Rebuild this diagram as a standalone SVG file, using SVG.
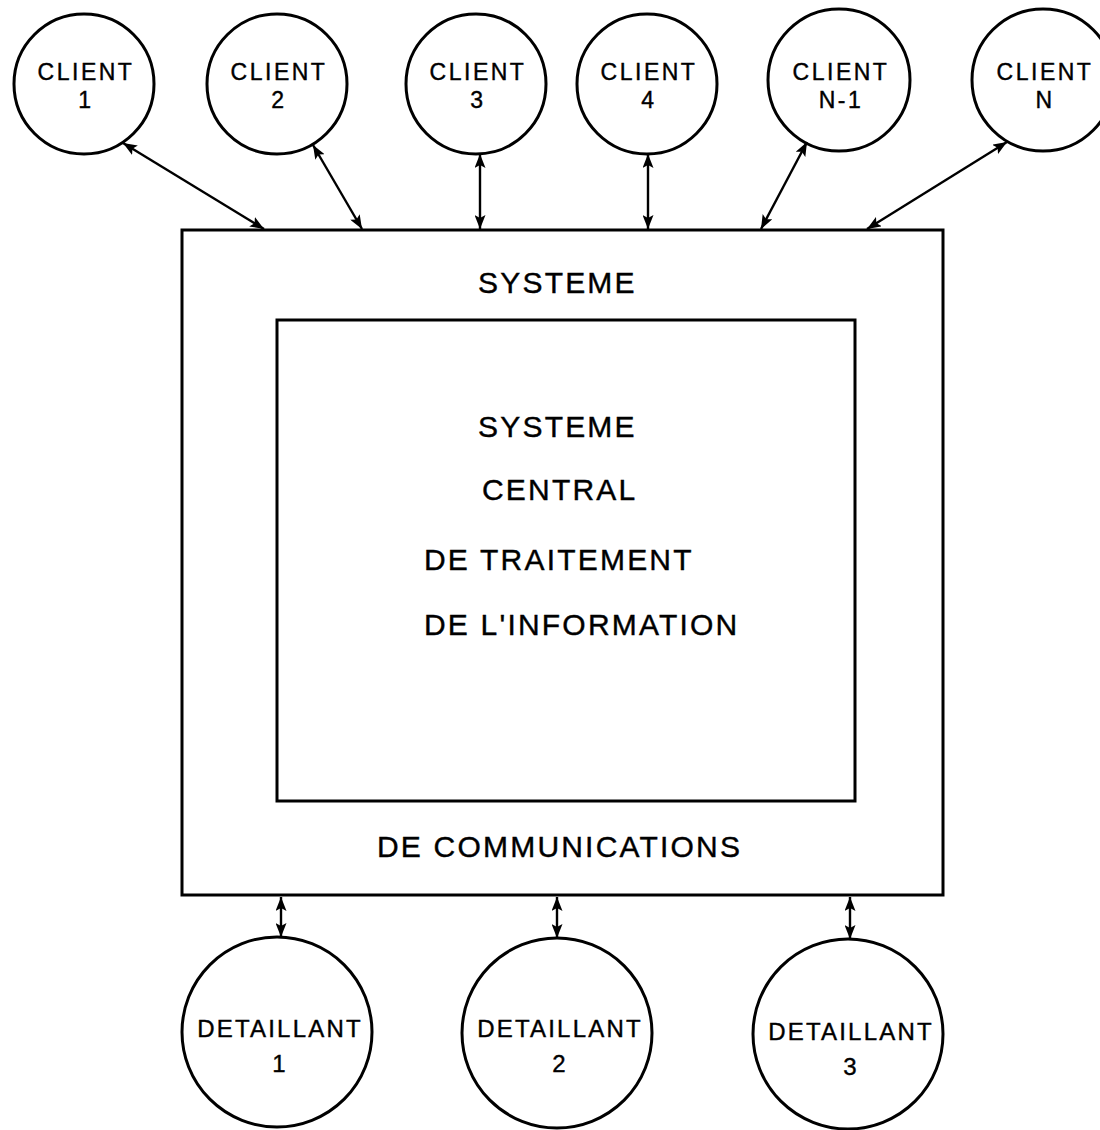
<svg xmlns="http://www.w3.org/2000/svg" width="1100" height="1130" viewBox="0 0 1100 1130">
<style>
.shape{fill:none;stroke:#000;stroke-width:3}
.conn{stroke:#000;stroke-width:2.4;fill:none}
.lbl{font-family:"Liberation Sans",Arial,sans-serif;fill:#000;stroke:#000;stroke-width:0.4}
.big{font-size:30px;letter-spacing:2.2px}
.cl{font-size:23px;letter-spacing:2.5px;text-anchor:middle}
.dt{font-size:24px;letter-spacing:2.2px;text-anchor:middle}
</style>
<defs>
<marker id="ah" viewBox="0 0 14 11" refX="14" refY="5.5" markerWidth="14" markerHeight="11" markerUnits="userSpaceOnUse" orient="auto-start-reverse">
<path d="M0,0 L14,5.5 L0,11 L3,5.5 z" fill="#000"/>
</marker>
</defs>
<rect width="1100" height="1130" fill="#fff"/>
<g id="systeme-communications">
<rect class="shape" x="182" y="230" width="761" height="665"/>
<text class="lbl big" x="478" y="293">SYSTEME</text>
<text class="lbl big" x="377" y="857">DE COMMUNICATIONS</text>
</g>
<g id="systeme-central">
<rect class="shape" x="277" y="320" width="578" height="481"/>
<text class="lbl big" x="478" y="437">SYSTEME</text>
<text class="lbl big" x="482" y="500">CENTRAL</text>
<text class="lbl big" x="424" y="570">DE TRAITEMENT</text>
<text class="lbl big" x="424" y="635">DE L'INFORMATION</text>
</g>
<g id="client-1"><circle class="shape" cx="84" cy="84" r="70"/><text class="lbl cl" x="86" y="80">CLIENT</text><text class="lbl cl" x="86" y="108">1</text></g>
<g id="client-2"><circle class="shape" cx="277" cy="84" r="70"/><text class="lbl cl" x="279" y="80">CLIENT</text><text class="lbl cl" x="279" y="108">2</text></g>
<g id="client-3"><circle class="shape" cx="476" cy="84" r="70"/><text class="lbl cl" x="478" y="80">CLIENT</text><text class="lbl cl" x="478" y="108">3</text></g>
<g id="client-4"><circle class="shape" cx="647" cy="84" r="70"/><text class="lbl cl" x="649" y="80">CLIENT</text><text class="lbl cl" x="649" y="108">4</text></g>
<g id="client-n-1"><circle class="shape" cx="839" cy="80" r="71"/><text class="lbl cl" x="841" y="80">CLIENT</text><text class="lbl cl" x="841" y="108">N-1</text></g>
<g id="client-n"><circle class="shape" cx="1043" cy="80" r="71"/><text class="lbl cl" x="1045" y="80">CLIENT</text><text class="lbl cl" x="1045" y="108">N</text></g>
<g id="detaillant-1"><circle class="shape" cx="277" cy="1032" r="95"/><text class="lbl dt" x="280" y="1037">DETAILLANT</text><text class="lbl dt" x="280" y="1072">1</text></g>
<g id="detaillant-2"><circle class="shape" cx="557" cy="1033" r="95"/><text class="lbl dt" x="560" y="1037">DETAILLANT</text><text class="lbl dt" x="560" y="1072">2</text></g>
<g id="detaillant-3"><circle class="shape" cx="848" cy="1034" r="95"/><text class="lbl dt" x="851" y="1040">DETAILLANT</text><text class="lbl dt" x="851" y="1075">3</text></g>
<g id="connectors">
<line class="conn" x1="123" y1="143" x2="264" y2="229" marker-start="url(#ah)" marker-end="url(#ah)"/>
<line class="conn" x1="313" y1="145" x2="362" y2="229" marker-start="url(#ah)" marker-end="url(#ah)"/>
<line class="conn" x1="480" y1="154" x2="480" y2="229" marker-start="url(#ah)" marker-end="url(#ah)"/>
<line class="conn" x1="648" y1="154" x2="648" y2="229" marker-start="url(#ah)" marker-end="url(#ah)"/>
<line class="conn" x1="807" y1="142" x2="761" y2="229" marker-start="url(#ah)" marker-end="url(#ah)"/>
<line class="conn" x1="1007" y1="142" x2="867" y2="229" marker-start="url(#ah)" marker-end="url(#ah)"/>
<line class="conn" x1="281" y1="897" x2="281" y2="937" marker-start="url(#ah)" marker-end="url(#ah)"/>
<line class="conn" x1="557" y1="897" x2="557" y2="938" marker-start="url(#ah)" marker-end="url(#ah)"/>
<line class="conn" x1="850" y1="897" x2="850" y2="939" marker-start="url(#ah)" marker-end="url(#ah)"/>
</g>
</svg>
